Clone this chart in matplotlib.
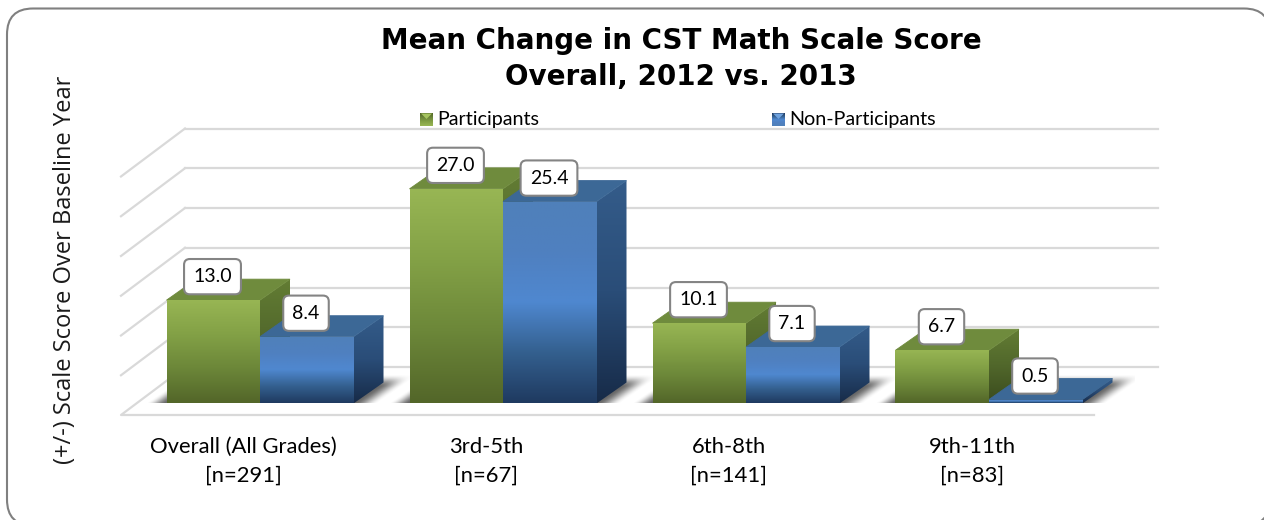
import numpy as np
import matplotlib
matplotlib.use('Agg')
import matplotlib.pyplot as plt
from matplotlib.colors import LinearSegmentedColormap
from matplotlib.patches import FancyBboxPatch, Polygon

categories = ['Overall (All Grades)\n[n=291]', '3rd-5th\n[n=67]', '6th-8th\n[n=141]', '9th-11th\n[n=83]']
participants = [13.0, 27.0, 10.1, 6.7]
non_participants = [8.4, 25.4, 7.1, 0.5]
grid_values = [0, 5, 10, 15, 20, 25, 30]

W, H = 1264, 520
GROUP_PX = 243.0      # px between category centres
UNIT_PX = 7.95        # px per score point
BAR_W = 93.5 / GROUP_PX
DX = 30 / GROUP_PX    # bar depth
DY = 21 / UNIT_PX
WALL_DX = 64 / GROUP_PX
WALL_DY = 48 / UNIT_PX
FLOOR_DY = -11.5 / UNIT_PX

green_front = LinearSegmentedColormap.from_list('gf', ['#536629', '#6c8739', '#83a146', '#98b654'])
green_side = LinearSegmentedColormap.from_list('gs', ['#3a4b1d', '#51672b', '#637d34'])
blue_front = LinearSegmentedColormap.from_list('bf', ['#1f3a60', '#34608f', '#4f88d0', '#4f80c0', '#5080ba'])
blue_side = LinearSegmentedColormap.from_list('bs', ['#172b48', '#2a4d78', '#345c8a'])
green_top = '#6f8b3d'
blue_top = '#3c6896'

fig = plt.figure(figsize=(W / 100, H / 100), dpi=100)
plt.rcParams['font.family'] = ['Lato', 'DejaVu Sans']

# Outer rounded frame, it runs off the right and bottom of the picture
bg = fig.add_axes([0, 0, 1, 1])
bg.set_xlim(0, W)
bg.set_ylim(H, 0)
bg.axis('off')
bg.add_patch(FancyBboxPatch((7, 8.5), 1263, 517, boxstyle='round,pad=0,rounding_size=26',
                            fc='white', ec='#808080', lw=1.5))

# Axes: value 0 sits on the front edge of the bars, category i at 260+243i px
left = 260 - GROUP_PX * 0.6
ax = fig.add_axes([left / W, (H - 403.5) / H, GROUP_PX * 4.2 / W, 35 * UNIT_PX / H])
ax.patch.set_alpha(0)
xlim = (-0.6, 3.6)
ylim = (0, 35)

# Walls and floor
x_back0 = (185 - 260) / GROUP_PX
x_back1 = (1158 - 260) / GROUP_PX
y_back = (403.5 - 367) / UNIT_PX
for v in grid_values:
    y = v + y_back
    ax.plot([x_back0, x_back1], [y, y], color='#d9d9d9', lw=1.6, zorder=1, clip_on=False)
    if v > 0:
        ax.plot([x_back0 - WALL_DX, x_back0], [y - WALL_DY, y], color='#d9d9d9', lw=1.6, zorder=1, clip_on=False)
ax.plot([x_back0, x_back0 - WALL_DX, x_back1 - WALL_DX], [y_back, FLOOR_DY, FLOOR_DY],
        color='#d9d9d9', lw=1.6, zorder=1, clip_on=False)


def face(xs, ys, cmap, zorder):
    """Vertical gradient clipped to a polygon."""
    grad = np.linspace(1, 0, 128).reshape(-1, 1)
    im = ax.imshow(grad, cmap=cmap, aspect='auto', vmin=0, vmax=1, zorder=zorder,
                   extent=[min(xs), max(xs), min(ys), max(ys)], interpolation='bilinear')
    poly = Polygon(np.column_stack([xs, ys]), transform=ax.transData, fc='none', ec='none')
    ax.add_patch(poly)
    im.set_clip_path(poly)


def smooth(t):
    t = np.clip(t, 0, 1)
    return t * t * (3 - 2 * t)


def shadow(x0, x1, zorder):
    """Soft floor shadow under a bar pair."""
    xs = np.linspace(x0 - 0.2, x1 + DX + 0.2, 260)
    ys = np.linspace(-1.4, DY + 1.0, 60)
    xx, yy = np.meshgrid(xs, ys)
    u = xx - (yy / DY) * DX
    fade_u = smooth((u - (x0 - 0.085)) / 0.085) * smooth(((x1 + 0.1) - u) / 0.1)
    fade_v = smooth((yy + 1.4) / 1.4) * smooth((DY + 1.0 - yy) / 1.6)
    rgba = np.zeros(xx.shape + (4,))
    rgba[..., :3] = 0.25
    rgba[..., 3] = 0.8 * fade_u * fade_v
    ax.imshow(rgba, extent=[xs[0], xs[-1], ys[0], ys[-1]], origin='lower', aspect='auto',
              zorder=zorder, interpolation='bilinear')


def bar3d(x0, v, front, side, top, zorder):
    x1 = x0 + BAR_W
    face([x1, x1 + DX, x1 + DX, x1], [0, DY, v + DY, v], side, zorder)
    ax.add_patch(Polygon([(x0, v), (x1, v), (x1 + DX, v + DY), (x0 + DX, v + DY)],
                         fc=top, ec=top, lw=0.6, zorder=zorder + 0.1))
    face([x0, x1, x1, x0], [0, 0, v, v], front, zorder + 0.2)


def value_label(x, y, text):
    ax.text(x, y, text, ha='center', va='center', fontsize=14, color='black', zorder=20,
            bbox=dict(boxstyle='round,pad=0.47,rounding_size=0.3', fc='white', ec='#848484', lw=1.5))


for i in range(len(categories)):
    shadow(i - BAR_W, i + BAR_W, 2)

LABEL_DX = 46 / GROUP_PX
LABEL_DY = 23.5 / UNIT_PX
for i, (p, n) in enumerate(zip(participants, non_participants)):
    bar3d(i - BAR_W, p, green_front, green_side, green_top, 3 + i * 2)
    bar3d(i, n, blue_front, blue_side, blue_top, 4 + i * 2)
    value_label(i - BAR_W + LABEL_DX, p + LABEL_DY, f'{p:.1f}')
    value_label(i + LABEL_DX, n + LABEL_DY, f'{n:.1f}')

ax.set_xlim(xlim)
ax.set_ylim(ylim)
# category labels sit a little left of the bar pair, as in the 3-D chart
ax.set_xticks([i - 17 / GROUP_PX for i in range(len(categories))])
ax.set_xticklabels(categories, fontsize=15.8, linespacing=1.53)
ax.tick_params(axis='x', length=0, pad=24)
ax.set_yticks([])
for s in ax.spines.values():
    s.set_visible(False)

# Title, y label, legend
fig.text(681 / W, 1 - 59 / H, 'Mean Change in CST Math Scale Score\nOverall, 2012 vs. 2013',
         ha='center', va='center', fontsize=20, fontweight='bold', family='DejaVu Sans', linespacing=1.38)
fig.text(65 / W, 1 - 270 / H, '(+/-) Scale Score Over Baseline Year', rotation=90,
         ha='center', va='center', fontsize=17, family='Open Sans', color='#1a1a1a')

leg = fig.add_axes([0, 0, 1, 1])
leg.set_xlim(0, W)
leg.set_ylim(H, 0)
leg.axis('off')
leg.patch.set_alpha(0)
for x, name, cmap, light in [(420, 'Participants', green_front, '#a5c45f'),
                             (772, 'Non-Participants', blue_front, '#6fa2de')]:
    leg.imshow(np.linspace(1, 0, 32).reshape(-1, 1), cmap=cmap, extent=[x, x + 13, 126, 113],
               aspect='auto', vmin=0, vmax=1, origin='lower')
    leg.add_patch(Polygon([(x + 1, 113.5), (x + 12, 113.5), (x + 6.5, 119)], fc=light, ec='none'))
    leg.text(x + 17, 119, name, ha='left', va='center', fontsize=14.2)
leg.set_xlim(0, W)
leg.set_ylim(H, 0)

fig.savefig('out.png', dpi=100)
